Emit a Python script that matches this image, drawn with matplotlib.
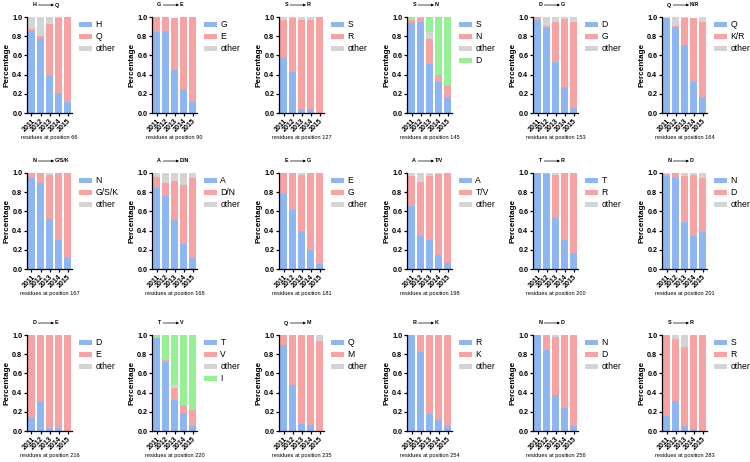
import matplotlib
matplotlib.use('Agg')
import matplotlib.pyplot as plt
from matplotlib.patches import Patch

plt.rcParams['font.family'] = ['Liberation Sans', 'DejaVu Sans']

years = ['2011', '2012', '2013', '2014', '2015']

positions = [66, 90, 127, 145, 153, 164,
             167, 168, 181, 198, 200, 201,
             216, 220, 235, 254, 256, 283]
from_res = ['H', 'G', 'S', 'S', 'D', 'Q',
            'N', 'A', 'E', 'A', 'T', 'N',
            'D', 'T', 'Q', 'R', 'N', 'S']
to_res = ['Q', 'E', 'R', 'N', 'G', 'K/R',
          'G/S/K', 'D/N', 'G', 'T/V', 'R', 'D',
          'E', 'V', 'M', 'K', 'D', 'R']
extra_res = {145: 'D', 220: 'I'}

# fraction of the original residue (blue), substituted residue (red), other (grey)
p66_wt = [0.85, 0.77, 0.39, 0.21, 0.11]
p66_mut = [0.02, 0.03, 0.54, 0.78, 0.89]
p66_other = [0.13, 0.20, 0.07, 0.01, 0.0]

p90_wt = [0.84, 0.85, 0.45, 0.25, 0.11]
p90_mut = [0.16, 0.15, 0.54, 0.75, 0.89]
p90_other = [0.0, 0.0, 0.0, 0.0, 0.0]

p127_wt = [0.57, 0.43, 0.04, 0.04, 0.0]
p127_mut = [0.40, 0.56, 0.93, 0.93, 1.0]
p127_other = [0.03, 0.01, 0.03, 0.03, 0.0]

p145_wt = [0.94, 0.95, 0.51, 0.32, 0.17]
p145_mut = [0.03, 0.04, 0.26, 0.08, 0.11]
p145_other = [0.0, 0.0, 0.07, 0.0, 0.0]
p145_extra = [0.03, 0.01, 0.16, 0.60, 0.72]

p153_wt = [0.97, 0.89, 0.53, 0.27, 0.05]
p153_mut = [0.025, 0.02, 0.42, 0.71, 0.90]
p153_other = [0.0, 0.09, 0.05, 0.02, 0.05]

p164_wt = [0.99, 0.90, 0.71, 0.32, 0.17]
p164_mut = [0.0, 0.01, 0.275, 0.67, 0.78]
p164_other = [0.01, 0.09, 0.015, 0.0, 0.05]

p167_wt = [0.95, 0.90, 0.52, 0.30, 0.11]
p167_mut = [0.05, 0.10, 0.46, 0.70, 0.89]
p167_other = [0.0, 0.0, 0.02, 0.0, 0.0]

p168_wt = [0.84, 0.76, 0.51, 0.26, 0.11]
p168_mut = [0.12, 0.14, 0.41, 0.61, 0.84]
p168_other = [0.04, 0.10, 0.08, 0.13, 0.05]

p181_wt = [0.78, 0.61, 0.40, 0.20, 0.05]
p181_mut = [0.22, 0.39, 0.58, 0.80, 0.95]
p181_other = [0.0, 0.0, 0.02, 0.0, 0.0]

p198_wt = [0.66, 0.34, 0.30, 0.15, 0.06]
p198_mut = [0.31, 0.57, 0.67, 0.84, 0.94]
p198_other = [0.03, 0.09, 0.03, 0.01, 0.0]

p200_wt = [1.0, 0.99, 0.53, 0.30, 0.17]
p200_mut = [0.0, 0.01, 0.45, 0.70, 0.83]
p200_other = [0.0, 0.0, 0.02, 0.0, 0.0]

p201_wt = [0.97, 0.95, 0.49, 0.34, 0.39]
p201_mut = [0.015, 0.05, 0.48, 0.64, 0.56]
p201_other = [0.015, 0.0, 0.03, 0.02, 0.05]

p216_wt = [0.14, 0.30, 0.03, 0.03, 0.0]
p216_mut = [0.86, 0.70, 0.97, 0.97, 1.0]
p216_other = [0.0, 0.0, 0.0, 0.0, 0.0]

p220_wt = [0.97, 0.72, 0.32, 0.19, 0.05]
p220_mut = [0.0, 0.015, 0.13, 0.08, 0.17]
p220_other = [0.0, 0.0, 0.03, 0.0, 0.0]
p220_extra = [0.03, 0.265, 0.52, 0.73, 0.78]

p235_wt = [0.90, 0.48, 0.07, 0.06, 0.0]
p235_mut = [0.10, 0.52, 0.93, 0.94, 0.94]
p235_other = [0.0, 0.0, 0.0, 0.0, 0.06]

p254_wt = [1.0, 0.82, 0.18, 0.11, 0.05]
p254_mut = [0.0, 0.18, 0.82, 0.89, 0.95]
p254_other = [0.0, 0.0, 0.0, 0.0, 0.0]

p256_wt = [1.0, 0.84, 0.37, 0.24, 0.05]
p256_mut = [0.0, 0.16, 0.61, 0.76, 0.95]
p256_other = [0.0, 0.0, 0.015, 0.0, 0.0]

p283_wt = [0.16, 0.31, 0.05, 0.02, 0.0]
p283_mut = [0.84, 0.65, 0.83, 0.98, 1.0]
p283_other = [0.0, 0.04, 0.12, 0.0, 0.0]

panel_data = [
    (p66_wt, p66_mut, p66_other, None),
    (p90_wt, p90_mut, p90_other, None),
    (p127_wt, p127_mut, p127_other, None),
    (p145_wt, p145_mut, p145_other, p145_extra),
    (p153_wt, p153_mut, p153_other, None),
    (p164_wt, p164_mut, p164_other, None),
    (p167_wt, p167_mut, p167_other, None),
    (p168_wt, p168_mut, p168_other, None),
    (p181_wt, p181_mut, p181_other, None),
    (p198_wt, p198_mut, p198_other, None),
    (p200_wt, p200_mut, p200_other, None),
    (p201_wt, p201_mut, p201_other, None),
    (p216_wt, p216_mut, p216_other, None),
    (p220_wt, p220_mut, p220_other, p220_extra),
    (p235_wt, p235_mut, p235_other, None),
    (p254_wt, p254_mut, p254_other, None),
    (p256_wt, p256_mut, p256_other, None),
    (p283_wt, p283_mut, p283_other, None),
]

c_blue = '#8db6f2'
c_red = '#f7a3a3'
c_grey = '#d4d4d4'
c_green = '#96f096'

W, H = 750, 462
fig = plt.figure(figsize=(7.5, 4.62), dpi=100)

col_left = [27, 152, 279, 407, 533, 662]
row_top = [17, 173, 335]
ax_w, ax_h = 45, 96

for i, (wt, mut, oth, extra) in enumerate(panel_data):
    r, c = divmod(i, 6)
    left = col_left[c] / W
    bottom = 1 - (row_top[r] + ax_h) / H
    ax = fig.add_axes([left, bottom, ax_w / W, ax_h / H])

    x = range(len(years))
    bw = 0.74
    b1 = [a + b for a, b in zip(wt, mut)]
    b2 = [a + b for a, b in zip(b1, oth)]
    ax.bar(x, wt, width=bw, color=c_blue)
    ax.bar(x, mut, width=bw, bottom=wt, color=c_red)
    ax.bar(x, oth, width=bw, bottom=b1, color=c_grey)
    names = [from_res[i], to_res[i], 'other']
    cols = [c_blue, c_red, c_grey]
    if extra is not None:
        ax.bar(x, extra, width=bw, bottom=b2, color=c_green)
        names.append(extra_res[positions[i]])
        cols.append(c_green)

    ax.set_xlim(-0.5, 4.5)
    ax.set_ylim(0, 1.0)
    ax.set_yticks([0, 0.2, 0.4, 0.6, 0.8, 1.0])
    ax.set_yticklabels(['0.0', '0.2', '0.4', '0.6', '0.8', '1.0'],
                       fontsize=5.2, fontweight='bold')
    ax.set_xticks(list(x))
    ax.set_xticklabels(years, rotation=45, ha='right', rotation_mode='anchor',
                       fontsize=5.0, fontweight='bold')
    ax.tick_params(axis='both', direction='out', length=2.2, width=0.9, pad=1.2)
    for s in ['top', 'right']:
        ax.spines[s].set_visible(False)
    for s in ['left', 'bottom']:
        ax.spines[s].set_linewidth(0.9)
    ax.set_ylabel('Percentage', fontsize=5.9, fontweight='bold', labelpad=1.5)

    # substitution title: X --> Y
    ty = 1.125
    ax.text(0.16, ty, from_res[i], transform=ax.transAxes, fontsize=3.9,
            fontweight='bold', ha='center', va='center')
    ax.annotate('', xy=(0.6, ty), xytext=(0.25, ty), xycoords='axes fraction',
                arrowprops=dict(arrowstyle='-|>', lw=0.5, color='black',
                                mutation_scale=3.5, shrinkA=0, shrinkB=0))
    ax.text(0.62, ty, to_res[i], transform=ax.transAxes, fontsize=3.9,
            fontweight='bold', ha='left', va='center')

    ax.text(0.5, -0.255, 'residues at position %d' % positions[i],
            transform=ax.transAxes, fontsize=4.1, ha='center', va='center')

    handles = [Patch(facecolor=col, edgecolor='none') for col in cols]
    ax.legend(handles, names, loc='upper left', bbox_to_anchor=(1.07, 1.0),
              frameon=False, fontsize=6.2, handlelength=1.5, handleheight=0.6,
              labelspacing=0.35, handletextpad=0.45, borderaxespad=0)

fig.savefig('out.png', dpi=100)
